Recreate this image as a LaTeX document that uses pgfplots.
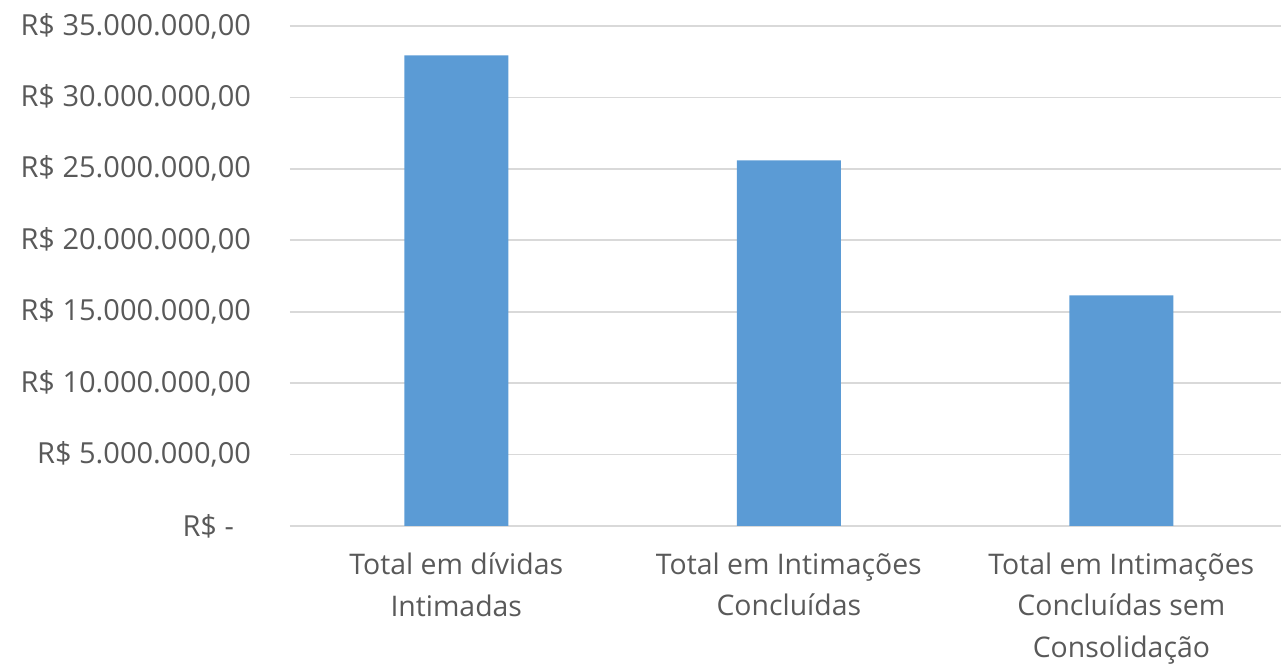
\documentclass[border=0pt]{standalone}
\usepackage{fontspec}
\setmainfont{Open Sans}
\usepackage{pgfplots}
\pgfplotsset{compat=1.18}
\definecolor{barblue}{HTML}{5B9BD5}
\definecolor{gridgray}{HTML}{D9D9D9}
\definecolor{txtgray}{HTML}{595959}
\begin{document}
\begin{tikzpicture}
\begin{axis}[
    at={(0,0)}, anchor=south west,
    scale only axis,
    width=495.5pt, height=250pt,
    ybar, bar width=52pt,
    xmin=-0.5, xmax=2.48,
    ymin=0, ymax=35000000,
    scaled y ticks=false,
    axis line style={draw=none},
    major tick length=0pt,
    ymajorgrids, grid style={gridgray, line width=0.9pt},
    xtick=data,
    xticklabels={{Total em dívidas\\Intimadas},{Total em Intimações\\Concluídas},{Total em Intimações\\Concluídas sem\\Consolidação}},
    ytick={0,5000000,10000000,15000000,20000000,25000000,30000000,35000000},
    yticklabels={{R\$ -\rule{8.5pt}{0pt}},{R\$ 5.000.000,00},{R\$ 10.000.000,00},{R\$ 15.000.000,00},{R\$ 20.000.000,00},{R\$ 25.000.000,00},{R\$ 30.000.000,00},{R\$ 35.000.000,00}},
    ticklabel style={font=\fontsize{14.5}{21}\selectfont, text=txtgray},
    xticklabel style={align=center, yshift=-10pt, font=\fontsize{14.2}{20.6}\selectfont},
    yticklabel style={anchor=east, xshift=-16pt},
]
\addplot[fill=barblue, draw=none] coordinates {(0,32950000) (1,25600000) (2,16150000)};
\end{axis}
\pgfresetboundingbox
\path (-145pt,-71.5pt) rectangle (495.5pt,263pt);
\end{tikzpicture}
\end{document}
